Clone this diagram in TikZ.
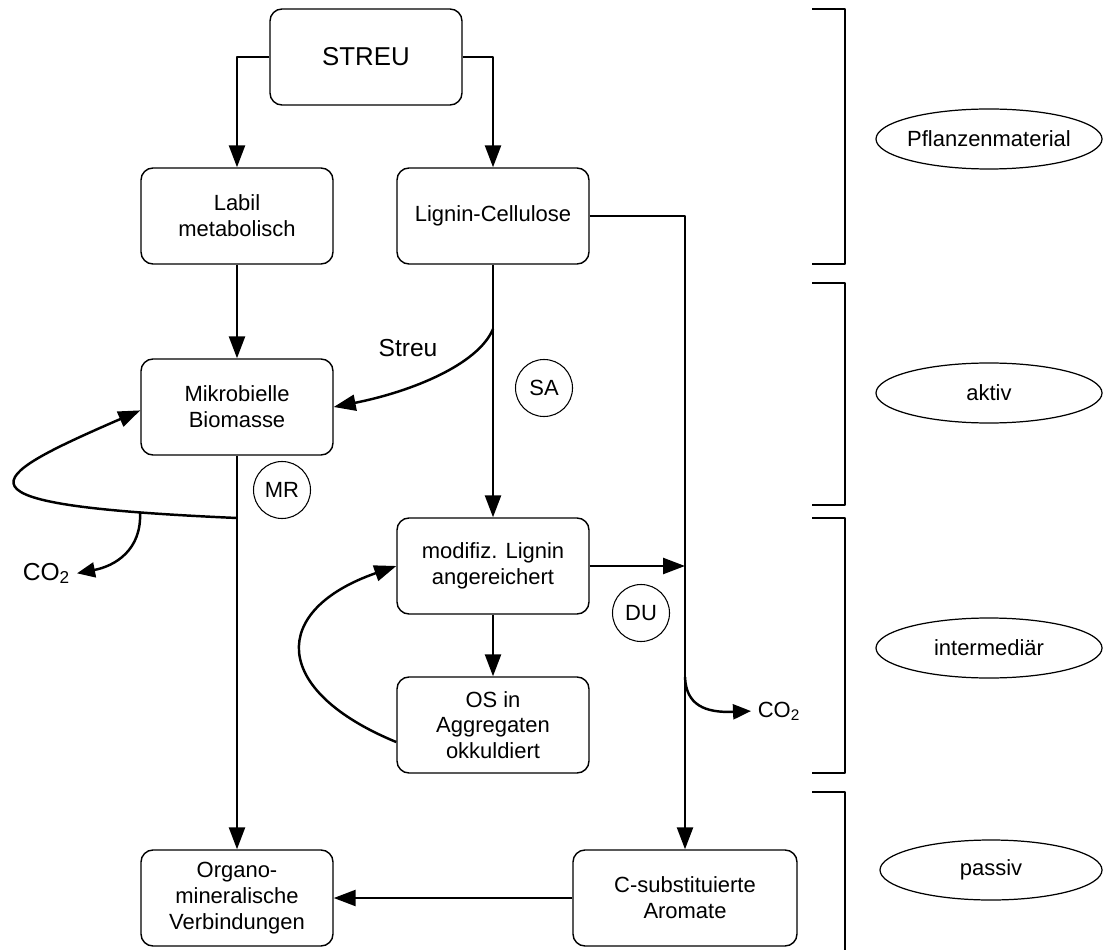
\documentclass[tikz,border=0pt]{standalone}
\usepackage{fontspec}
\setmainfont{Liberation Sans}
\usepackage{tikz}
\usetikzlibrary{arrows.meta,shapes.geometric}
\tikzset{
  pool-node/.style={draw, line width=0.8pt, rounded corners=2.4mm,
    minimum width=3.84cm, minimum height=1.92cm, align=center,
    font=\fontsize{12.5}{14.7}\selectfont, inner sep=2pt},
  flow-arrow/.style={-{Triangle[length=4.4mm,width=3.2mm]}, line width=1.4pt},
  gas-arrow/.style={-{Triangle[length=3.6mm,width=3mm]}, line width=1.4pt},
  process-circle/.style={draw, circle, line width=0.6pt, minimum size=1.14cm,
    inner sep=0pt, font=\fontsize{12.5}{14}\selectfont},
  level-ellipse/.style={draw, ellipse, line width=0.7pt, minimum width=4.52cm,
    minimum height=1.2cm, inner xsep=-2mm, inner ysep=0pt,
    font=\fontsize{12.5}{14}\selectfont},
  level-bracket/.style={line width=1.4pt},
  gas-label/.style={inner sep=1.3mm}
}

\begin{document}
\begin{tikzpicture}[x=0.2mm, y=-0.2mm, line join=round]
\useasboundingbox (0,0) rectangle (1103,950);

% Pools
\node[pool-node, font=\fontsize{14.7}{16}\selectfont] (streu) at (366,57) {STREU};
\node[pool-node] (labil) at (237,216) {Labil\\metabolisch};
\node[pool-node] (lc) at (493,216) {Lignin-Cellulose};
\node[pool-node] (mikro) at (237,407) {Mikrobielle\\Biomasse};
\node[pool-node] (modlig) at (493,566) {modifiz. Lignin\\angereichert};
\node[pool-node] (os) at (493,725) {OS in\\Aggregaten\\okkuldiert};
\node[pool-node] (orgmin) at (237,898) {Organo-\\mineralische\\Verbindungen};
\node[pool-node, minimum width=4.48cm] (caro) at (685,898) {C-substituierte\\Aromate};

% Processes and labels
\node[process-circle] (sa) at (544,388) {SA};
\node[process-circle] (mr) at (282,490) {MR};
\node[process-circle] (du) at (641,613) {DU};
\node[font=\fontsize{14}{16}\selectfont] (streulab) at (408,348) {Streu};
\node[gas-label, font=\fontsize{14}{16}\selectfont, anchor=base east] (co2l) at (77,580) {CO\textsubscript{2}};
\node[gas-label, font=\fontsize{12.5}{14}\selectfont, anchor=base west] (co2r) at (751,717) {CO\textsubscript{2}};

% Branch points
\coordinate (lcsplit) at (493,329);
\coordinate (mrjoin) at (237,518);
\coordinate (co2left) at (140,512);
\coordinate (co2right) at (685,677);

% Flows
\draw[flow-arrow] (streu.west) -| (labil.north);
\draw[flow-arrow] (streu.east) -| (lc.north);
\draw[flow-arrow] (labil) -- (mikro);
\draw[flow-arrow] (lc) -- (modlig);
\draw[flow-arrow] (lcsplit) .. controls (478,365) and (410,392) .. (mikro.east);
\draw[flow-arrow] (lc.east) -| (caro.north);
\draw[flow-arrow] (modlig.east) -- (modlig.east -| caro.north);
\draw[flow-arrow] (modlig) -- (os);
\draw[flow-arrow] (os.190) .. controls (270,690) and (270,610) .. (modlig.west);
\draw[flow-arrow] (mikro) -- (orgmin);
\draw[flow-arrow] (mrjoin) .. controls (-60,505) and (-20,480) .. (mikro.182);
\draw[gas-arrow] (co2left) .. controls (142,550) and (115,566) .. (co2l.east);
\draw[gas-arrow] (co2right) .. controls (686,705) and (705,713) .. (co2r.west);
\draw[flow-arrow] (caro) -- (orgmin);

% Levels
\foreach \ya/\yb in {9/264, 283/505, 518/773}
  \draw[level-bracket] (812,\ya) -- (845,\ya) -- (845,\yb) -- (812,\yb);
\draw[level-bracket] (812,792) -- (845,792) -- (845,950);
\node[level-ellipse] (pflanz) at (989,139) {Pflanzenmaterial};
\node[level-ellipse] (aktiv) at (989,393) {aktiv};
\node[level-ellipse] (inter) at (989,648) {intermediär};
\node[level-ellipse, minimum width=4.44cm] (passiv) at (991,870) {passiv};
\end{tikzpicture}
\end{document}
